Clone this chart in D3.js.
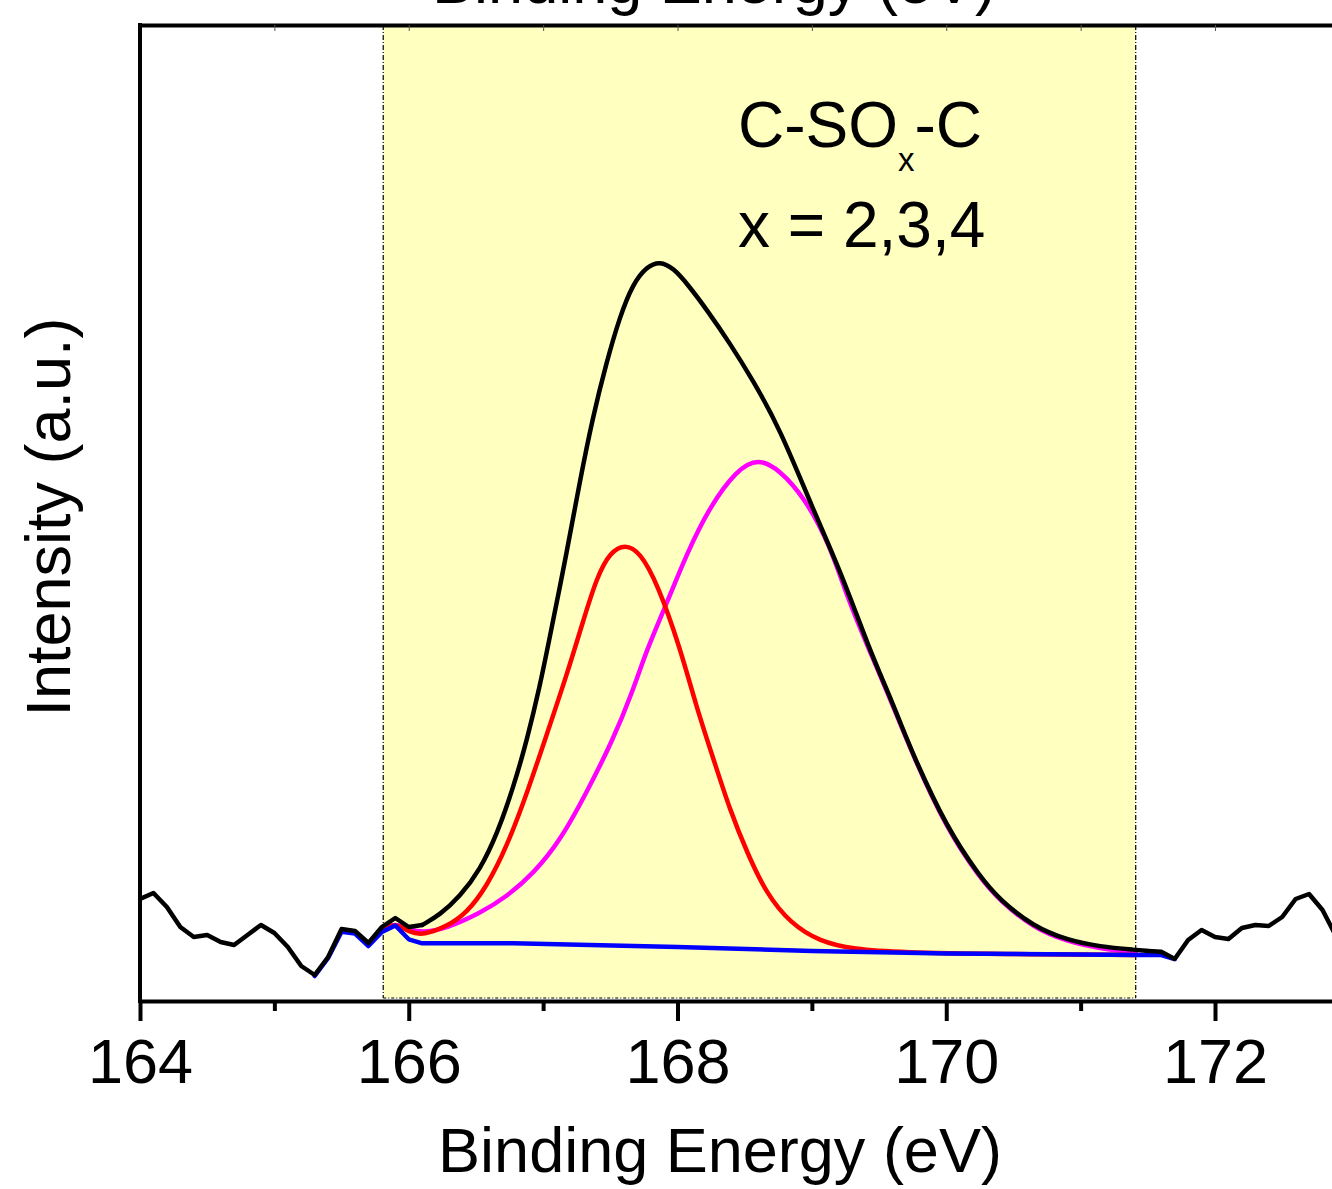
<!DOCTYPE html>
<html>
<head>
<meta charset="utf-8">
<script src="https://cdn.jsdelivr.net/npm/d3@7"></script>
<style>
  html, body { margin: 0; padding: 0; background: #fff; }
  svg { display: block; }
  text { font-family: "Liberation Sans", Arial, sans-serif; fill: #000; }
</style>
</head>
<body>
<svg id="chart" width="1332" height="1189"></svg>
<script>
// S 2p region: measured spectrum, fitted components and background.
// Each entry is [binding energy (eV), intensity (counts)].

// Measured spectrum below the fitting window
const rawLow = [
  [164.0, 1010], [164.1, 1070], [164.2, 930], [164.3, 730], [164.4, 630],
  [164.5, 650], [164.6, 580], [164.7, 550], [164.8, 650], [164.9, 750],
  [165.0, 670], [165.1, 530], [165.2, 340], [165.3, 250], [165.4, 430],
  [165.5, 710], [165.6, 690], [165.7, 570], [165.8, 730], [165.9, 820],
  [166.0, 730], [166.1, 750]
];

// Fitted envelope inside the window
const envelope = [
  [166.1, 750], [166.23, 850], [166.38, 1033], [166.53, 1300], [166.66, 1667],
  [166.78, 2133], [166.88, 2600], [166.98, 3167], [167.03, 3500], [167.18, 4500],
  [167.27, 5167], [167.37, 5833], [167.47, 6367], [167.57, 6833], [167.67, 7167],
  [167.77, 7333], [167.87, 7390], [167.97, 7317], [168.07, 7167], [168.22, 6900],
  [168.39, 6567], [168.56, 6200], [168.76, 5720], [169.01, 4900], [169.21, 4300],
  [169.43, 3500], [169.56, 3100], [169.66, 2767], [169.76, 2433], [170.0, 1733],
  [170.25, 1233], [170.4, 1000], [170.65, 733], [170.9, 600], [171.14, 533],
  [171.42, 500], [171.5, 490]
];

// Measured spectrum above the fitting window
const rawHigh = [
  [171.5, 490], [171.6, 483], [171.7, 410], [171.8, 600], [171.9, 700],
  [172.0, 630], [172.1, 610], [172.2, 720], [172.3, 750], [172.4, 740],
  [172.5, 830], [172.6, 1010], [172.7, 1060], [172.8, 900], [172.9, 640]
];

// Component 1 (red), including background
const peakLow = [
  [165.79, 700], [165.9, 773], [166.01, 673], [166.11, 650], [166.28, 733],
  [166.43, 867], [166.58, 1133], [166.73, 1533], [166.88, 2067], [167.03, 2667],
  [167.18, 3267], [167.3, 3800], [167.4, 4230], [167.5, 4480], [167.61, 4560],
  [167.72, 4480], [167.85, 4167], [168.02, 3520], [168.14, 2933], [168.27, 2400],
  [168.39, 1900], [168.52, 1467], [168.66, 1067], [168.84, 767], [169.06, 583],
  [169.31, 507], [169.66, 475], [170.4, 460], [171.41, 450]
];

// Component 2 (magenta), including background
const peakHigh = [
  [165.79, 700], [165.9, 773], [166.0, 707], [166.11, 673], [166.28, 717],
  [166.53, 867], [166.73, 1033], [166.93, 1267], [167.13, 1600], [167.32, 2067],
  [167.52, 2600], [167.67, 3100], [167.77, 3500], [167.92, 3967], [168.07, 4467],
  [168.24, 4933], [168.44, 5300], [168.6, 5420], [168.76, 5300], [168.94, 5033],
  [169.13, 4567], [169.27, 4000], [169.43, 3490], [169.56, 3085], [169.76, 2420],
  [170.0, 1720], [170.25, 1220], [170.4, 990], [170.65, 720], [170.9, 585],
  [171.14, 515], [171.41, 475]
];

// Background (blue)
const background = [
  [165.3, 240], [165.4, 420], [165.5, 683], [165.6, 665], [165.7, 540],
  [165.8, 680], [165.9, 745], [166.0, 607], [166.1, 567], [166.78, 567],
  [168.0, 530], [169.0, 490], [170.0, 465], [171.0, 455], [171.4, 450],
  [171.6, 450], [171.7, 410]
];

// Fitting window and axis ticks
const fitWindow = [165.81, 171.41];
const majorTicks = [164, 166, 168, 170, 172];
const minorTicks = [165, 167, 169, 171, 173];
const topTicks = [165, 166, 167, 168, 169, 170, 171, 172, 173];

const xLabel = "Binding Energy (eV)";
const yLabel = "Intensity (a.u.)";

const svg = d3.select("#chart");
const W = 1332, H = 1189;
const plotLeft = 140, plotTop = 25, plotBottom = 1001;

const x = d3.scaleLinear().domain([164, 173]).range([plotLeft, plotLeft + 9 * 134.375]);
const y = d3.scaleLinear().domain([0, 9750]).range([1000, plotTop]);

svg.append("rect").attr("width", W).attr("height", H).attr("fill", "#fff");

svg.append("defs").append("clipPath").attr("id", "plot")
  .append("rect")
  .attr("x", plotLeft).attr("y", plotTop)
  .attr("width", x(173) - plotLeft).attr("height", plotBottom - plotTop);

// Highlighted fitting window
const win = svg.append("g");
win.append("rect")
  .attr("x", x(fitWindow[0])).attr("y", plotTop)
  .attr("width", x(fitWindow[1]) - x(fitWindow[0]))
  .attr("height", 998 - plotTop)
  .attr("fill", "#FFFFC0");
fitWindow.forEach(v => {
  win.append("line")
    .attr("x1", x(v)).attr("x2", x(v))
    .attr("y1", plotTop).attr("y2", 998)
    .attr("stroke", "#000").attr("stroke-width", 1.2)
    .attr("stroke-dasharray", "5,2,1,2");
});
win.append("line")
  .attr("x1", x(fitWindow[0])).attr("x2", x(fitWindow[1]))
  .attr("y1", 998).attr("y2", 998)
  .attr("stroke", "#000").attr("stroke-width", 1.2)
  .attr("stroke-dasharray", "3,2,1,2");

const smooth = d3.line()
  .x(d => x(d[0])).y(d => y(d[1]))
  .curve(d3.curveBasis);
const straight = d3.line()
  .x(d => x(d[0])).y(d => y(d[1]));

const plot = svg.append("g").attr("clip-path", "url(#plot)")
  .attr("fill", "none")
  .attr("stroke-linejoin", "round")
  .attr("stroke-linecap", "round");

const sw = 4.5;
plot.append("path").attr("d", smooth(peakHigh))
  .attr("stroke", "#FF00FF").attr("stroke-width", sw);
plot.append("path").attr("d", smooth(peakLow))
  .attr("stroke", "#FF0000").attr("stroke-width", sw);
plot.append("path").attr("d", straight(background))
  .attr("stroke", "#0000FF").attr("stroke-width", sw);
plot.append("path").attr("d", straight(rawLow))
  .attr("stroke", "#000").attr("stroke-width", sw);
plot.append("path").attr("d", smooth(envelope))
  .attr("stroke", "#000").attr("stroke-width", sw);
plot.append("path").attr("d", straight(rawHigh))
  .attr("stroke", "#000").attr("stroke-width", sw);

// Bottom axis: labelled major ticks and minor ticks
const xAxis = svg.append("g")
  .attr("transform", `translate(0,${plotBottom})`)
  .call(d3.axisBottom(x).tickValues(majorTicks).tickSize(20).tickSizeOuter(0)
    .tickFormat(d3.format("d")));
xAxis.select(".domain").attr("stroke-width", 4);
xAxis.selectAll(".tick line").attr("stroke-width", 4);
xAxis.selectAll(".tick text")
  .attr("y", 82).attr("dy", 0)
  .style("font-size", "63px")
  .style("font-family", "'Liberation Sans', Arial, sans-serif");

const xMinor = svg.append("g")
  .attr("transform", `translate(0,${plotBottom})`)
  .call(d3.axisBottom(x).tickValues(minorTicks).tickSize(10).tickSizeOuter(0)
    .tickFormat(""));
xMinor.select(".domain").remove();
xMinor.selectAll(".tick line").attr("stroke-width", 4);

// Top frame with small inward ticks
const xTop = svg.append("g")
  .attr("transform", `translate(0,${plotTop})`)
  .call(d3.axisBottom(x).tickValues(topTicks).tickSize(6).tickSizeOuter(0)
    .tickFormat(""));
xTop.select(".domain").attr("stroke-width", 4);
xTop.selectAll(".tick line").attr("stroke-width", 1).attr("stroke", "#555");

// Left axis without ticks
const yAxis = svg.append("g")
  .attr("transform", `translate(${plotLeft},0)`)
  .call(d3.axisLeft(y).tickValues([]).tickSizeOuter(0));
yAxis.select(".domain").attr("stroke-width", 4)
  .attr("d", `M0,${plotTop - 2}V${plotBottom + 2}`);

// Axis titles
svg.append("text")
  .attr("x", 720).attr("y", 1172)
  .attr("text-anchor", "middle")
  .style("font-size", "63px")
  .text(xLabel);

svg.append("text")
  .attr("transform", "translate(70,517) rotate(-90)")
  .attr("text-anchor", "middle")
  .style("font-size", "63px")
  .text(yLabel);

// Title of the panel above, partly cut off at the top edge
svg.append("text")
  .attr("x", 714).attr("y", 3)
  .attr("text-anchor", "middle")
  .style("font-size", "63px")
  .text(xLabel);

// Annotation
const note = svg.append("text")
  .attr("x", 738).attr("y", 147)
  .style("font-size", "64px");
note.append("tspan").text("C-SO");
note.append("tspan").attr("dy", 24).style("font-size", "33px").text("x");
note.append("tspan").attr("dy", -24).text("-C");

svg.append("text")
  .attr("x", 738).attr("y", 247)
  .style("font-size", "64px")
  .text("x = 2,3,4");
</script>
</body>
</html>
